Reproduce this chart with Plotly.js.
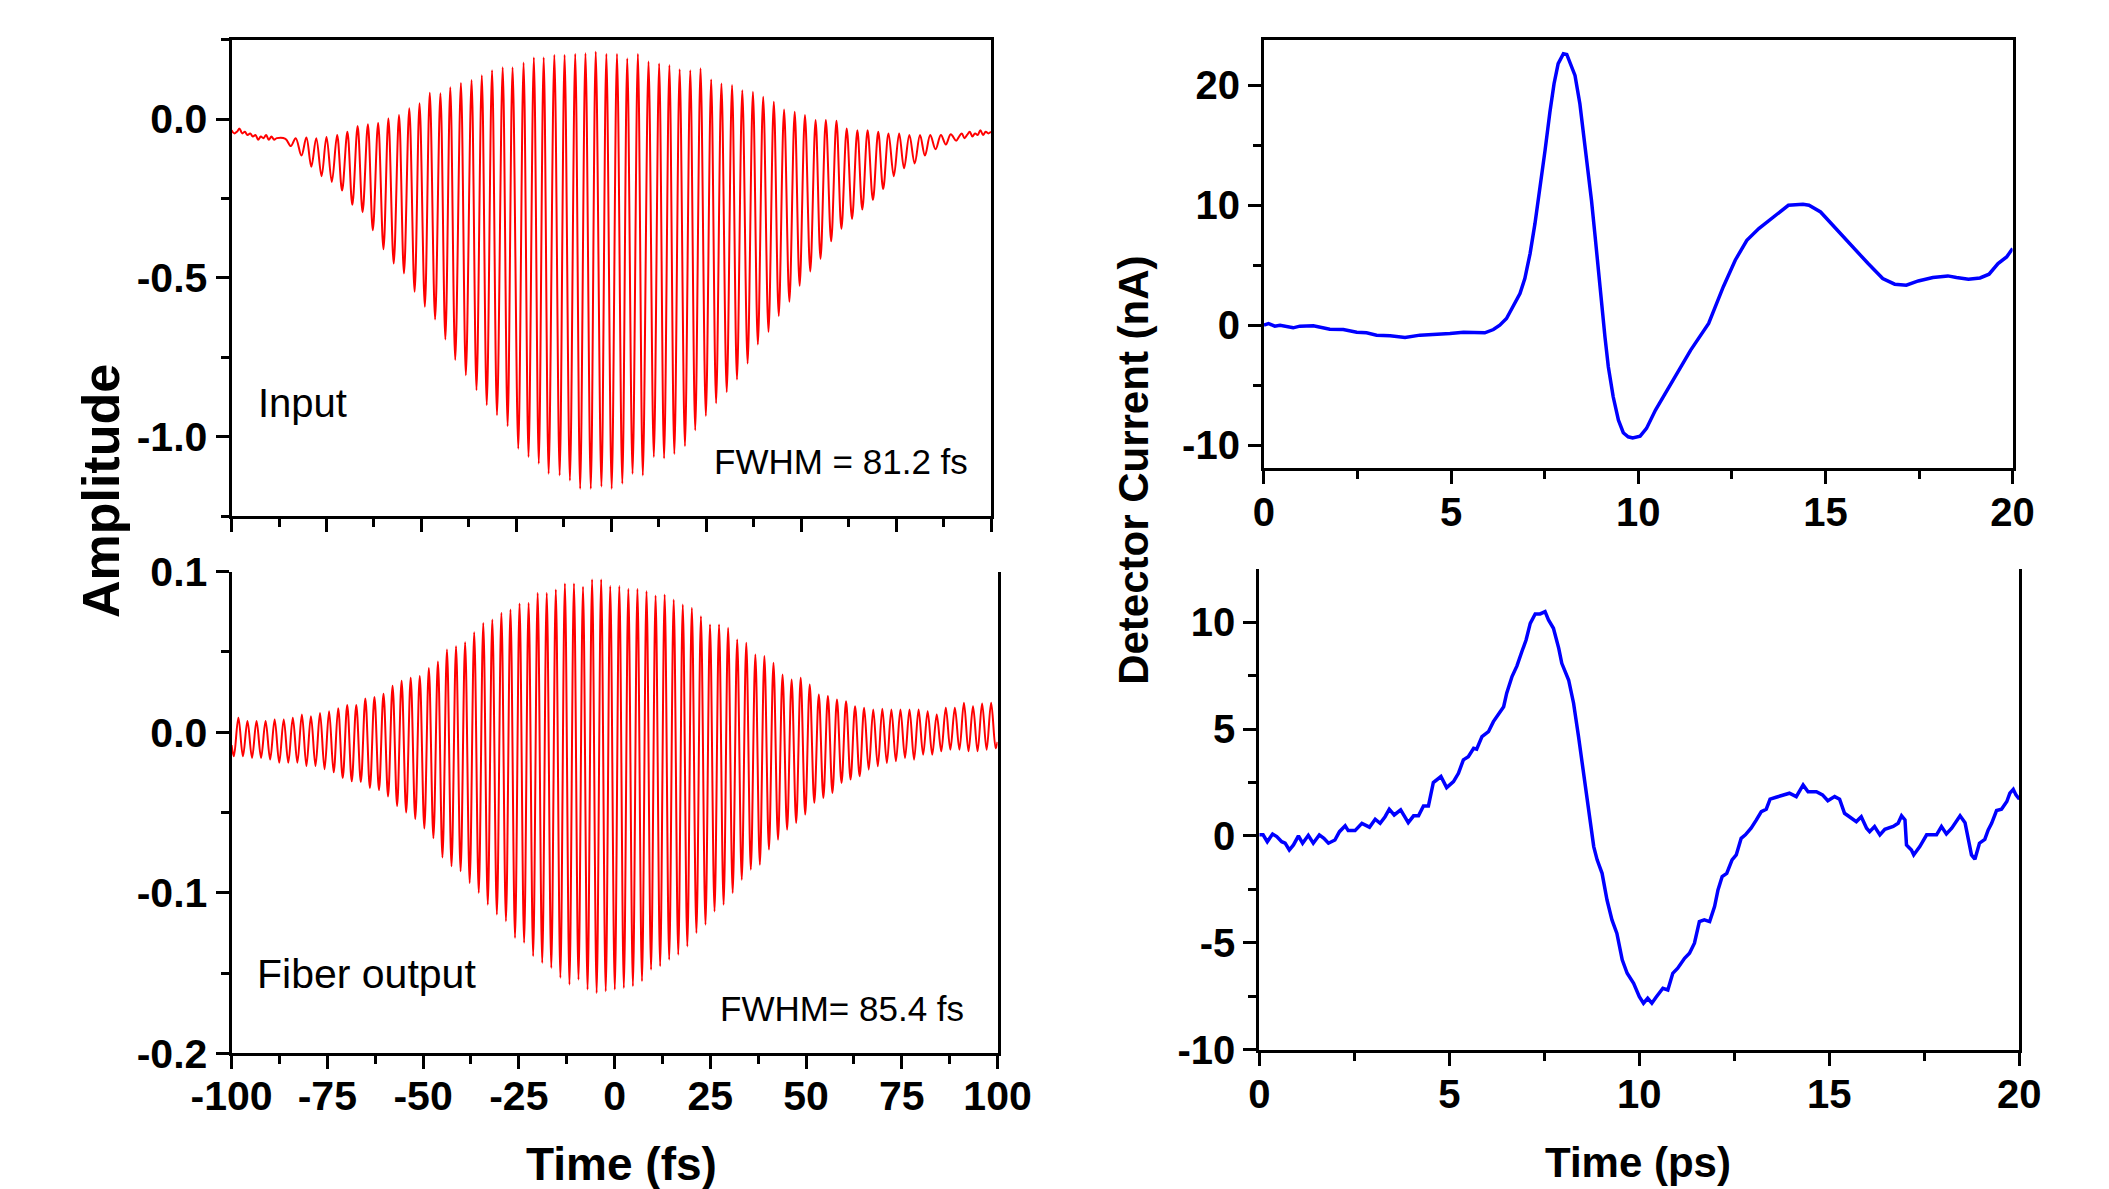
<!DOCTYPE html>
<html>
<head>
<meta charset="utf-8">
<script src="https://cdn.plot.ly/plotly-3.0.1.min.js"></script>
<style>html,body{margin:0;padding:0;background:#fff;}#chart{width:2109px;height:1189px;}</style>
</head>
<body>
<div id="chart"></div>
<script>
// ---------- Input pulse (top-left): time (fs) and amplitude ----------
const inputTime = [-100,-99.3,-98.6,-97.9,-97.2,-96.5,-95.8,-95.1,-94.4,-93.7,-93.0,-92.3,-91.6,-90.9,-90.2,-89.5,-88.8,-88.1,
  -85.8,-84.4,-83.1,-81.6,-80.3,-79.0,-77.7,-76.3,-75.0,-73.6,-72.2,-70.9,-69.5,-68.2,-66.8,-65.5,-64.1,-62.8,-61.4,-60.0,
  -58.7,-57.3,-55.9,-54.6,-53.2,-51.8,-50.5,-49.1,-47.8,-46.4,-45.0,-43.7,-42.4,-41.1,-39.6,-38.3,-36.8,-35.5,-34.1,-32.8,
  -31.4,-30.1,-28.6,-27.3,-26.0,-24.5,-23.1,-21.8,-20.4,-19.1,-17.8,-16.5,-15.0,-13.6,-12.3,-10.9,-9.5,-8.2,-6.8,-5.4,
  -4.1,-2.6,-1.3,0.1,1.5,2.9,4.2,5.6,7.0,8.3,9.8,11.2,12.6,13.9,15.3,16.6,18.0,19.4,20.8,22.1,23.5,24.9,26.3,27.6,
  29.0,30.4,31.8,33.1,34.5,35.9,37.3,38.6,40.0,41.4,42.8,44.1,45.5,46.9,48.3,49.6,51.0,52.4,53.8,55.1,56.5,57.9,
  59.3,60.6,62.0,63.4,64.8,66.1,67.5,68.9,70.3,71.6,73.0,74.4,75.8,77.1,78.5,79.9,81.3,82.6,84.0,85.4,86.8,88.1,
  89.4,90.8,91.6,92.3,93.0,93.7,94.4,95.1,95.8,96.5,97.2,97.9,98.6,99.3,100];
const inputAmp = [-0.035,-0.045,-0.04,-0.03,-0.045,-0.04,-0.05,-0.045,-0.055,-0.05,-0.065,-0.055,-0.06,-0.05,-0.065,-0.055,-0.065,-0.06,
  -0.062,-0.085,-0.060,-0.115,-0.058,-0.15,-0.060,-0.18,-0.056,-0.198,-0.050,-0.225,-0.040,-0.27,-0.022,-0.293,-0.016,-0.35,-0.012,-0.41,
  0.002,-0.455,0.013,-0.486,0.034,-0.544,0.05,-0.591,0.083,-0.631,0.081,-0.694,0.100,-0.759,0.114,-0.807,0.123,-0.854,0.138,-0.901,
  0.154,-0.933,0.163,-0.967,0.163,-1.038,0.178,-1.064,0.194,-1.085,0.194,-1.117,0.202,-1.122,0.202,-1.138,0.205,-1.164,0.207,-1.164,
  0.212,-1.157,0.205,-1.164,0.205,-1.148,0.191,-1.117,0.205,-1.122,0.181,-1.064,0.175,-1.069,0.170,-1.055,0.157,-1.03,0.154,-0.98,0.160,-0.935,0.125,-0.895,
  0.112,-0.86,0.107,-0.82,0.091,-0.77,0.086,-0.71,0.070,-0.67,0.055,-0.62,0.030,-0.575,0.023,-0.525,0.013,-0.48,-0.003,-0.44,-0.003,-0.385,
  -0.005,-0.345,-0.030,-0.315,-0.035,-0.285,-0.035,-0.255,-0.040,-0.22,-0.045,-0.18,-0.045,-0.155,-0.050,-0.14,-0.050,-0.115,-0.050,-0.095,-0.050,-0.08,
  -0.048,-0.068,-0.055,-0.045,-0.06,-0.05,-0.04,-0.055,-0.045,-0.05,-0.035,-0.05,-0.04,-0.045,-0.04];

// ---------- Fiber output pulse (bottom-left) ----------
const fiberTime = [-100,-99.40,-98.22,-97.03,-95.85,-94.66,-93.48,-92.30,-91.12,-89.93,-88.75,-87.56,-86.38,-85.19,-84.01,-82.82,-81.64,
  -80.46,-79.28,-78.09,-76.91,-75.72,-74.54,-73.35,-72.17,-70.98,-69.80,-68.62,-67.44,-66.25,-65.07,-63.88,-62.70,-61.51,-60.33,
  -59.14,-57.96,-56.78,-55.60,-54.41,-53.23,-52.04,-50.86,-49.67,-48.49,-47.30,-46.12,-44.94,-43.76,-42.57,-41.39,-40.20,-39.02,
  -37.83,-36.65,-35.46,-34.28,-33.10,-31.92,-30.73,-29.55,-28.36,-27.18,-25.99,-24.81,-23.62,-22.44,-21.26,-20.08,-18.89,-17.71,
  -16.52,-15.34,-14.15,-12.97,-11.78,-10.60,-9.42,-8.24,-7.05,-5.87,-4.68,-3.50,-2.31,-1.13,0.06,1.24,2.42,3.60,4.79,5.97,
  7.16,8.34,9.53,10.71,11.90,13.08,14.26,15.44,16.63,17.81,19.00,20.18,21.37,22.55,23.74,24.92,26.10,27.28,28.47,29.65,
  30.84,32.02,33.21,34.39,35.58,36.76,37.94,39.12,40.31,41.49,42.68,43.86,45.05,46.23,47.42,48.60,49.78,50.96,52.15,53.33,
  54.52,55.70,56.89,58.07,59.26,60.44,61.62,62.80,63.99,65.17,66.36,67.54,68.73,69.91,71.10,72.28,73.46,74.64,75.83,77.01,
  78.20,79.38,80.57,81.75,82.94,84.12,85.30,86.48,87.67,88.85,90.04,91.22,92.41,93.59,94.78,95.96,97.14,98.32,99.51,100];
const fiberAmp = [-0.008,-0.015,0.009,-0.015,0.007,-0.016,0.007,-0.016,0.007,-0.017,0.008,-0.019,0.008,-0.019,0.009,-0.019,0.011,
  -0.021,0.010,-0.021,0.012,-0.023,0.013,-0.025,0.015,-0.0285,0.017,-0.0306,0.017,-0.031,0.021,-0.0347,0.022,-0.036,0.024,
  -0.040,0.029,-0.046,0.032,-0.050,0.034,-0.054,0.035,-0.060,0.040,-0.066,0.044,-0.078,0.0515,-0.0835,0.0536,-0.0866,0.0561,
  -0.0939,0.0623,-0.1001,0.0681,-0.1074,0.0702,-0.1136,0.0744,-0.1177,0.0764,-0.1281,0.0802,-0.1312,0.0806,-0.1395,0.0868,-0.1437,0.0868,
  -0.1468,0.0889,-0.1530,0.0927,-0.1572,0.0927,-0.1541,0.0906,-0.1603,0.0951,-0.1624,0.0951,-0.1614,0.0910,-0.1603,0.0910,-0.1593,0.0893,-0.1582,0.0893,
  -0.1551,0.0879,-0.1479,0.0852,-0.1458,0.0858,-0.1417,0.0826,-0.1386,0.0795,-0.1334,0.0775,-0.1251,0.0723,-0.1199,0.0671,-0.1116,0.0671,-0.1075,0.0650,
  -0.1002,0.0578,-0.0919,0.0557,-0.0856,0.0484,-0.0825,0.0474,-0.0731,0.0432,-0.0669,0.0360,-0.0607,0.0329,-0.0565,0.0339,-0.0513,0.0297,-0.0440,0.0235,
  -0.0409,0.0225,-0.0378,0.0204,-0.0316,0.0193,-0.0295,0.0162,-0.0274,0.0152,-0.0233,0.0142,-0.0212,0.0146,-0.0192,0.0142,-0.0181,0.0142,-0.0160,0.0142,
  -0.0171,0.0142,-0.0140,0.0131,-0.0140,0.0110,-0.0119,0.0152,-0.0109,0.0152,-0.0109,0.0183,-0.0119,0.0162,-0.0119,0.0179,-0.0109,0.0183,-0.010,-0.006];

// ---------- Detector current, top-right (time in ps, current in nA) ----------
const detTopTime = [0,0.12,0.29,0.43,0.78,0.96,1.32,1.76,2.12,2.48,2.74,3.01,3.37,3.77,4.17,4.61,4.97,5.33,5.59,5.90,6.13,6.30,
  6.48,6.66,6.84,6.97,7.11,7.24,7.37,7.51,7.64,7.75,7.86,8.00,8.09,8.22,8.31,8.44,8.53,8.67,8.75,8.84,8.93,9.02,9.11,9.20,
  9.33,9.47,9.60,9.73,9.85,10.05,10.22,10.46,10.93,11.40,11.88,12.27,12.59,12.90,13.22,13.61,14.01,14.40,14.56,14.87,15.11,
  15.43,15.82,16.14,16.53,16.85,17.16,17.48,17.87,18.27,18.50,18.82,19.13,19.37,19.61,19.84,20.0];
const detTopCurrent = [0,0.14,-0.08,0,-0.22,-0.08,-0.05,-0.33,-0.36,-0.58,-0.64,-0.83,-0.89,-1.03,-0.83,-0.78,-0.69,-0.58,-0.64,-0.64,-0.36,0,
  0.56,1.53,2.64,3.89,5.97,8.47,11.25,14.58,17.78,20.14,21.81,22.64,22.58,21.53,20.83,18.47,16.25,12.92,10.42,7.64,4.58,1.53,-0.97,-3.47,
  -5.97,-7.92,-8.97,-9.31,-9.40,-9.25,-8.61,-7.08,-4.58,-2.08,0.14,3.19,5.42,7.08,8.06,9.03,10.0,10.08,10.0,9.44,8.61,
  7.5,6.25,5.14,3.89,3.42,3.33,3.69,3.97,4.11,3.97,3.83,3.94,4.25,5.14,5.69,6.39];

// ---------- Detector current, bottom-right ----------
const detBotTime = [0,0.1,0.21,0.35,0.46,0.59,0.68,0.79,0.9,1.03,1.14,1.29,1.42,1.58,1.7,1.82,1.99,2.11,2.26,2.34,2.52,2.7,2.9,
  3.05,3.18,3.31,3.42,3.55,3.72,3.92,4.06,4.19,4.32,4.45,4.58,4.78,4.93,5.11,5.24,5.37,5.5,5.64,5.72,5.86,6.03,6.16,6.43,6.51,
  6.65,6.78,6.91,7.02,7.13,7.26,7.39,7.52,7.61,7.74,7.88,7.96,8.14,8.27,8.4,8.53,8.62,8.71,8.8,8.89,9.02,9.15,9.28,9.41,9.55,
  9.68,9.85,10.0,10.11,10.22,10.33,10.44,10.62,10.75,10.88,11.01,11.19,11.32,11.45,11.58,11.71,11.85,11.98,12.07,12.18,12.3,
  12.44,12.55,12.68,12.79,12.94,13.08,13.21,13.34,13.44,13.6,13.78,13.95,14.13,14.31,14.44,14.66,14.82,14.96,15.14,15.27,15.4,
  15.54,15.71,15.84,15.98,16.06,16.19,16.33,16.46,16.68,16.81,16.9,16.99,17.03,17.16,17.22,17.38,17.56,17.73,17.82,17.95,18.08,
  18.22,18.35,18.44,18.57,18.66,18.74,18.83,18.95,19.09,19.18,19.27,19.4,19.53,19.67,19.75,19.84,19.91,20.0];
const detBotCurrent = [0.05,0.05,-0.27,0.09,-0.03,-0.27,-0.34,-0.66,-0.42,0,-0.34,0.03,-0.34,0.05,-0.11,-0.34,-0.19,0.2,0.47,0.25,0.25,0.59,0.41,
  0.78,0.59,0.9,1.25,0.98,1.22,0.62,0.94,0.94,1.4,1.4,2.5,2.78,2.26,2.54,2.93,3.56,3.71,4.1,4.06,4.65,4.88,5.35,6.05,6.68,
  7.46,7.96,8.63,9.17,9.95,10.39,10.39,10.5,10.11,9.72,8.78,8.08,7.3,6.21,4.65,2.93,1.68,0.75,-0.5,-1.12,-1.75,-3.0,-3.93,-4.56,-5.8,
  -6.43,-6.9,-7.52,-7.83,-7.6,-7.83,-7.55,-7.13,-7.21,-6.43,-6.19,-5.73,-5.49,-5.02,-4.01,-3.93,-4.01,-3.31,-2.53,-1.9,-1.75,
  -1.12,-0.89,-0.11,0.05,0.36,0.75,1.14,1.25,1.72,1.81,1.92,2.0,1.84,2.39,2.07,2.07,1.92,1.65,1.84,1.72,1.06,
  0.9,0.67,0.9,0.36,0.2,0.44,0.05,0.31,0.44,0.59,0.94,0.75,-0.42,-0.66,-0.89,-0.5,0.05,0.05,0.05,0.44,0.09,
  0.36,0.75,0.94,0.62,-0.19,-0.89,-1.09,-0.34,-0.16,0.28,0.59,1.19,1.25,1.61,2.0,2.18,1.92,1.72];

// ---------- Tick values and labels ----------
const fsTicks = [-100,-75,-50,-25,0,25,50,75,100];
const fsTickText = ['-100','-75','-50','-25','0','25','50','75','100'];
const inputTicks = [-1.0,-0.5,0.0];
const inputTickText = ['-1.0','-0.5','0.0'];
const fiberTicks = [-0.2,-0.1,0.0,0.1];
const fiberTickText = ['-0.2','-0.1','0.0','0.1'];
const psTicks = [0,5,10,15,20];
const psTickText = ['0','5','10','15','20'];
const topCurTicks = [-10,0,10,20];
const topCurTickText = ['-10','0','10','20'];
const botCurTicks = [-10,-5,0,5,10];
const botCurTickText = ['-10','-5','0','5','10'];

const FONT = 'Arial, "Liberation Sans", sans-serif';
const leftTickFont = {family: FONT, size: 41, color: '#000', weight: 'bold'};
const rightTickFont = {family: FONT, size: 40, color: '#000', weight: 'bold'};

function axisBase(extra) {
  return Object.assign({
    showline: true, linecolor: '#000', linewidth: 3,
    ticks: 'outside', ticklen: 13, tickwidth: 3, tickcolor: '#000',
    showgrid: false, zeroline: false,
    ticklabelstandoff: 0, fixedrange: true
  }, extra);
}

const traces = [
  {x: inputTime, y: inputAmp, xaxis: 'x', yaxis: 'y', type: 'scatter', mode: 'lines',
   line: {color: '#ff0000', width: 2, shape: 'spline', smoothing: 1}, hoverinfo: 'skip'},
  {x: fiberTime, y: fiberAmp, xaxis: 'x2', yaxis: 'y2', type: 'scatter', mode: 'lines',
   line: {color: '#ff0000', width: 2, shape: 'spline', smoothing: 1}, hoverinfo: 'skip'},
  {x: detTopTime, y: detTopCurrent, xaxis: 'x3', yaxis: 'y3', type: 'scatter', mode: 'lines',
   line: {color: '#0000ff', width: 3.5}, hoverinfo: 'skip'},
  {x: detBotTime, y: detBotCurrent, xaxis: 'x4', yaxis: 'y4', type: 'scatter', mode: 'lines',
   line: {color: '#0000ff', width: 3.5}, hoverinfo: 'skip'}
];

const minorFs = {tickmode: 'linear', tick0: 0, dtick: 12.5, ticks: 'outside', ticklen: 8, tickwidth: 3, tickcolor: '#000'};
const minorPs = {tickmode: 'linear', tick0: 0, dtick: 2.5, ticks: 'outside', ticklen: 8, tickwidth: 3, tickcolor: '#000'};

const layout = {
  width: 2109, height: 1189,
  margin: {l: 0, r: 0, t: 0, b: 0},
  paper_bgcolor: '#fff', plot_bgcolor: '#fff',
  showlegend: false,
  xaxis: axisBase({domain: [0.1098, 0.4699], anchor: 'y', range: [-100, 100], mirror: true, tickfont: leftTickFont,
    tickmode: 'array', tickvals: fsTicks, ticktext: fsTickText, showticklabels: false, minor: minorFs}),
  yaxis: axisBase({domain: [0.5660, 0.9666], anchor: 'x', range: [-1.25, 0.25], mirror: true, tickfont: leftTickFont,
    tickmode: 'array', tickvals: inputTicks, ticktext: inputTickText,
    minor: {tickmode: 'linear', tick0: 0, dtick: 0.25, ticks: 'outside', ticklen: 8, tickwidth: 3, tickcolor: '#000'}}),
  xaxis2: axisBase({domain: [0.1098, 0.4730], anchor: 'y2', range: [-100, 100], mirror: false, tickfont: leftTickFont,
    ticklabelstandoff: -9,
    tickmode: 'array', tickvals: fsTicks, ticktext: fsTickText, minor: minorFs}),
  yaxis2: axisBase({domain: [0.1141, 0.5192], anchor: 'x2', range: [-0.2, 0.1], mirror: true, tickfont: leftTickFont,
    tickmode: 'array', tickvals: fiberTicks, ticktext: fiberTickText,
    minor: {tickmode: 'linear', tick0: 0, dtick: 0.05, ticks: 'outside', ticklen: 8, tickwidth: 3, tickcolor: '#000'}}),
  xaxis3: axisBase({domain: [0.5993, 0.9543], anchor: 'y3', range: [0, 20], mirror: true, tickfont: rightTickFont,
    ticklabelstandoff: -6,
    tickmode: 'array', tickvals: psTicks, ticktext: psTickText, minor: minorPs}),
  yaxis3: axisBase({domain: [0.6061, 0.9660], anchor: 'x3', range: [-11.94, 23.75], mirror: true, tickfont: rightTickFont,
    tickmode: 'array', tickvals: topCurTicks, ticktext: topCurTickText,
    minor: {tickmode: 'linear', tick0: 0, dtick: 5, ticks: 'outside', ticklen: 8, tickwidth: 3, tickcolor: '#000'}}),
  xaxis4: axisBase({domain: [0.5971, 0.9575], anchor: 'y4', range: [0, 20], mirror: false, tickfont: rightTickFont,
    ticklabelstandoff: -6,
    tickmode: 'array', tickvals: psTicks, ticktext: psTickText, minor: minorPs}),
  yaxis4: axisBase({domain: [0.1169, 0.5212], anchor: 'x4', range: [-10.02, 12.48], mirror: true, tickfont: rightTickFont,
    tickmode: 'array', tickvals: botCurTicks, ticktext: botCurTickText,
    minor: {tickmode: 'linear', tick0: 0, dtick: 2.5, ticks: 'outside', ticklen: 8, tickwidth: 3, tickcolor: '#000'}}),
  annotations: [
    {text: 'Input', xref: 'x', yref: 'y', x: -93.5, y: -0.893, xanchor: 'left', yanchor: 'middle', showarrow: false,
     font: {family: FONT, size: 40, color: '#000'}},
    {text: 'FWHM = 81.2 fs', xref: 'x', yref: 'y', x: 94.5, y: -1.079, xanchor: 'right', yanchor: 'middle', showarrow: false,
     font: {family: FONT, size: 35, color: '#000'}},
    {text: 'Fiber output', xref: 'x2', yref: 'y2', x: -93.9, y: -0.1505, xanchor: 'left', yanchor: 'middle', showarrow: false,
     font: {family: FONT, size: 41, color: '#000'}},
    {text: 'FWHM= 85.4 fs', xref: 'x2', yref: 'y2', x: 91.7, y: -0.1723, xanchor: 'right', yanchor: 'middle', showarrow: false,
     font: {family: FONT, size: 35, color: '#000'}},
    {text: 'Amplitude', xref: 'paper', yref: 'paper', x: 0.0479, y: 0.587, textangle: -90, xanchor: 'center', yanchor: 'middle',
     showarrow: false, font: {family: FONT, size: 52, color: '#000', weight: 'bold'}},
    {text: 'Time (fs)', xref: 'paper', yref: 'paper', x: 0.2945, y: 0.0445, xanchor: 'center', yanchor: 'top',
     showarrow: false, font: {family: FONT, size: 46, color: '#000', weight: 'bold'}},
    {text: 'Detector Current (nA)', xref: 'paper', yref: 'paper', x: 0.5377, y: 0.604, textangle: -90, xanchor: 'center', yanchor: 'middle',
     showarrow: false, font: {family: FONT, size: 42, color: '#000', weight: 'bold'}},
    {text: 'Time (ps)', xref: 'paper', yref: 'paper', x: 0.7767, y: 0.0437, xanchor: 'center', yanchor: 'top',
     showarrow: false, font: {family: FONT, size: 42, color: '#000', weight: 'bold'}}
  ]
};

Plotly.newPlot('chart', traces, layout, {displayModeBar: false, staticPlot: true});
</script>
</body>
</html>
